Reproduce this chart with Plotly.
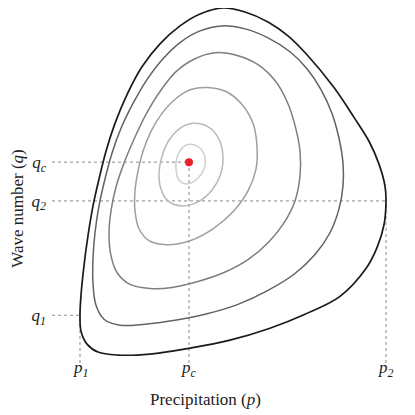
import plotly.graph_objects as go

# marker values on the axes
p_1, p_c, p_2 = 28, 137, 334
q_1, q_2, q_c = 48, 163, 202

# closed contours, outer to inner (precipitation, wave number)
c1_p = [171, 193, 216, 236, 255, 282, 302, 317, 327, 333, 334, 332, 325, 314, 288, 253, 218, 178, 138,
        98, 66, 46, 35, 29, 28, 29, 32, 36, 41, 47, 54, 63, 75, 90, 108, 128, 148]
c1_q = [357, 353, 343, 329, 310, 277, 247, 223, 200, 178, 163, 139, 116, 95, 67, 49, 35, 23, 15,
        9, 8, 11, 19, 32, 48, 68, 98, 128, 158, 185, 213, 241, 270, 298, 321, 339, 351]

c2_p = [170, 193, 216, 238, 255, 269, 280, 287, 291, 291, 287, 278, 263, 243, 216, 186, 153, 123, 93,
        68, 52, 44, 41, 41, 43, 47, 53, 60, 69, 81, 95, 111, 129, 148]
c2_q = [339, 336, 327, 313, 296, 275, 251, 226, 201, 178, 155, 131, 109, 90, 73, 59, 49, 43, 39,
        38, 44, 58, 80, 105, 131, 158, 185, 211, 236, 261, 285, 306, 323, 334]

c3_p = [163, 186, 206, 223, 235, 243, 248, 248, 243, 232, 216, 196, 172, 146, 120, 98, 78, 65, 59,
        57, 59, 64, 72, 82, 94, 108, 124, 143]
c3_q = [312, 309, 300, 284, 263, 239, 213, 188, 163, 141, 121, 104, 91, 82, 76, 75, 79, 91, 108,
        130, 153, 177, 201, 225, 250, 273, 293, 306]

c4_p = [155, 174, 190, 201, 205, 204, 196, 181, 161, 138, 115, 97, 87, 83, 83, 86, 91, 99, 110, 124, 139]
c4_q = [277, 273, 260, 241, 218, 195, 173, 152, 135, 123, 119, 123, 135, 153, 173, 193, 213, 233, 251, 266, 275]

c5_p = [141, 157, 167, 171, 169, 160, 146, 130, 116, 109, 107, 110, 117, 128]
c5_q = [241, 237, 225, 208, 191, 174, 162, 158, 163, 175, 191, 208, 224, 236]

c6_p = [137, 147, 153, 152, 145, 135, 127, 124, 125, 130]
c6_q = [220, 217, 207, 195, 185, 180, 184, 195, 207, 216]

p_labels = ["<i>p</i><sub><i>1</i></sub>", "<i>p</i><sub><i>c</i></sub>", "<i>p</i><sub><i>2</i></sub>"]
q_labels = ["<i>q</i><sub><i>1</i></sub>", "<i>q</i><sub><i>2</i></sub>", "<i>q</i><sub><i>c</i></sub>"]

contours = [(c1_p, c1_q), (c2_p, c2_q), (c3_p, c3_q), (c4_p, c4_q), (c5_p, c5_q), (c6_p, c6_q)]
shades = ["#1a1a1a", "#626262", "#7e7e7e", "#9e9e9e", "#b8b8b8", "#cecece"]
widths = [1.7, 1.5, 1.5, 1.5, 1.5, 1.5]

SERIF = "Liberation Serif, Times New Roman, serif"

fig = go.Figure()

# dotted guide lines
guide = dict(color="#8a8a8a", width=1, dash="dot")
for xs, ys in [
    ([0, p_c], [q_c, q_c]),
    ([0, p_2], [q_2, q_2]),
    ([0, p_1], [q_1, q_1]),
    ([p_1, p_1], [0, q_1]),
    ([p_c, p_c], [0, q_c]),
    ([p_2, p_2], [0, q_2]),
]:
    fig.add_trace(go.Scatter(x=xs, y=ys, mode="lines", line=guide, hoverinfo="skip"))

for (ps, qs), col, w in zip(contours, shades, widths):
    fig.add_trace(
        go.Scatter(
            x=ps + ps[:1],
            y=qs + qs[:1],
            mode="lines",
            line=dict(color=col, width=w, shape="spline", smoothing=1.0),
            hoverinfo="skip",
        )
    )

fig.add_trace(
    go.Scatter(x=[p_c], y=[q_c], mode="markers", marker=dict(color="#e8202a", size=8), hoverinfo="skip")
)

# p tick labels just under the plot area
for pv, lab in zip([p_1, p_c, p_2], p_labels):
    fig.add_annotation(x=pv, y=0, xref="x", yref="paper", text=lab, showarrow=False,
                       yanchor="top", yshift=7, font=dict(size=17))

# axis titles, off-centre like the original
fig.add_annotation(x=0.44, y=-0.104, xref="paper", yref="paper", text="Precipitation (<i>p</i>)",
                   showarrow=False, xanchor="center", yanchor="middle", font=dict(size=17))
fig.add_annotation(x=-0.098, y=0.437, xref="paper", yref="paper", text="Wave number (<i>q</i>)",
                   showarrow=False, textangle=-90, xanchor="center", yanchor="middle", font=dict(size=17))

fig.update_layout(
    width=407,
    height=407,
    paper_bgcolor="white",
    plot_bgcolor="white",
    showlegend=False,
    margin=dict(l=44, r=15, t=0, b=52),
    font=dict(family=SERIF, color="#222", size=17),
    xaxis=dict(
        range=[0, 348],
        showgrid=False,
        zeroline=False,
        showline=False,
        showticklabels=False,
        ticks="",
    ),
    yaxis=dict(
        range=[0, 357],
        showgrid=False,
        zeroline=False,
        showline=False,
        tickvals=[q_1, q_2, q_c],
        ticktext=q_labels,
        tickfont=dict(size=17),
        ticks="",
        ticklabelstandoff=5,
    ),
)

fig.write_html("out.html")
